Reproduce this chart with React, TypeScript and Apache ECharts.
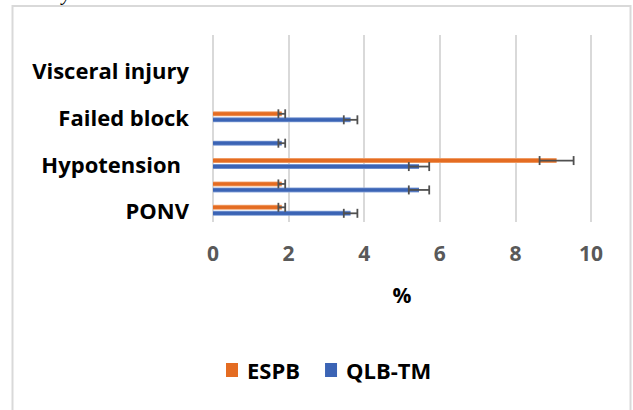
import React, { useEffect, useRef } from "react";
import * as echarts from "echarts";

const categories = [
  "PONV",
  "Pruritus",
  "Hypotension",
  "Bradycardia",
  "Failed block",
  "LAST",
  "Visceral injury",
  "Pneumothorax",
];
const espbValues = [1.82, 1.82, 9.09, 0, 1.82, 0, 0, 0];
const qlbValues = [3.64, 5.45, 5.45, 1.82, 3.64, 0, 0, 0];
const espbErrors = [0.09, 0.09, 0.45, 0, 0.09, 0, 0, 0];
const qlbErrors = [0.18, 0.27, 0.27, 0.09, 0.18, 0, 0, 0];
const xTicks = [0, 2, 4, 6, 8, 10];
const seriesNames = ["ESPB", "QLB-TM"];
const seriesColors = ["#e46c22", "#3b64b5"];
const seriesEdges = ["#f4b183", "#8faadc"];

const FONT = "Open Sans";

function grad(edge: string, main: string) {
  return new echarts.graphic.LinearGradient(0, 0, 0, 1, [
    { offset: 0, color: edge },
    { offset: 0.28, color: main },
    { offset: 0.72, color: main },
    { offset: 1, color: edge },
  ]);
}

function errorSeries(name: string, values: number[], errors: number[], offset: number) {
  const data = values
    .map((v, i) => [v, i, errors[i]])
    .filter((d) => d[2] > 0);
  return {
    type: "custom",
    name: name + " error",
    data,
    encode: { x: 0, y: 1 },
    z: 5,
    renderItem: (params: any, api: any) => {
      const v = api.value(0);
      const c = api.value(1);
      const e = api.value(2);
      const lo = api.coord([v - e, c]);
      const hi = api.coord([v + e, c]);
      const y = lo[1] + offset;
      const h = 4.5;
      const style = { stroke: "#505050", lineWidth: 1.8 };
      return {
        type: "group",
        children: [
          { type: "line", shape: { x1: lo[0], y1: y, x2: hi[0], y2: y }, style },
          { type: "line", shape: { x1: lo[0], y1: y - h, x2: lo[0], y2: y + h }, style },
          { type: "line", shape: { x1: hi[0], y1: y - h, x2: hi[0], y2: y + h }, style },
        ],
      };
    },
  };
}

export default function App() {
  const ref = useRef<HTMLDivElement>(null);
  useEffect(() => {
    if (!ref.current) return;
    const chart = echarts.init(ref.current, null, { renderer: "svg" });
    chart.setOption({
      animation: false,
      backgroundColor: "#ffffff",
      grid: { left: 213, right: 42, top: 35, bottom: 188 },
      legend: {
        data: seriesNames.map((n, i) => ({
          name: n,
          itemStyle: { color: seriesColors[i], borderWidth: 0 },
        })),
        icon: "rect",
        left: 221,
        top: 354,
        itemWidth: 12,
        itemHeight: 14,
        itemGap: 25,
        textStyle: {
          fontFamily: FONT,
          fontWeight: "bold",
          fontSize: 22,
          color: "#000000",
          padding: [0, 0, 0, 4],
        },
      },
      xAxis: {
        type: "value",
        min: 0,
        max: 10,
        interval: 2,
        name: "%",
        nameLocation: "middle",
        nameGap: 62,
        nameTextStyle: {
          fontFamily: FONT,
          fontWeight: "bold",
          fontSize: 21,
          color: "#000000",
        },
        axisLine: { show: false },
        axisTick: { show: false },
        axisLabel: {
          fontFamily: FONT,
          fontWeight: "bold",
          fontSize: 21,
          color: "#595959",
          margin: 20,
          formatter: (v: number) => (xTicks.includes(v) ? String(v) : ""),
        },
        splitLine: { lineStyle: { color: "#d9d9d9", width: 2 } },
      },
      yAxis: {
        type: "category",
        data: categories,
        axisLine: { show: false },
        axisTick: { show: false },
        axisLabel: {
          interval: 1,
          margin: 24,
          fontFamily: FONT,
          fontWeight: "bold",
          fontSize: 22,
          color: "#000000",
          formatter: (v: string) => (v === "Hypotension" ? "{h|" + v + "}" : v),
          rich: {
            h: {
              fontFamily: FONT,
              fontWeight: "bold",
              fontSize: 22,
              color: "#000000",
              padding: [0, 8, 0, 0],
            },
          },
        },
      },
      series: [
        {
          type: "bar",
          name: seriesNames[0],
          data: espbValues,
          barWidth: 5,
          barGap: "20%",
          itemStyle: { color: grad(seriesEdges[0], seriesColors[0]) },
        },
        {
          type: "bar",
          name: seriesNames[1],
          data: qlbValues,
          barWidth: 5,
          barGap: "20%",
          itemStyle: { color: grad(seriesEdges[1], seriesColors[1]) },
        },
        errorSeries(seriesNames[0], espbValues, espbErrors, -3),
        errorSeries(seriesNames[1], qlbValues, qlbErrors, 3),
      ],
      graphic: [
        {
          type: "rect",
          shape: { x: 12.5, y: 6, width: 618, height: 420 },
          style: { fill: "none", stroke: "#d9d9d9", lineWidth: 2 },
          silent: true,
        },
        {
          type: "text",
          x: 62,
          y: -17,
          style: {
            text: "y",
            fontFamily: "Liberation Serif",
            fontStyle: "italic",
            fontSize: 20,
            fill: "#000000",
          },
          silent: true,
        },
      ],
    });
    return () => chart.dispose();
  }, []);
  return (
    <div
      ref={ref}
      style={{ position: "fixed", left: 0, top: 0, width: 633, height: 410 }}
    />
  );
}
